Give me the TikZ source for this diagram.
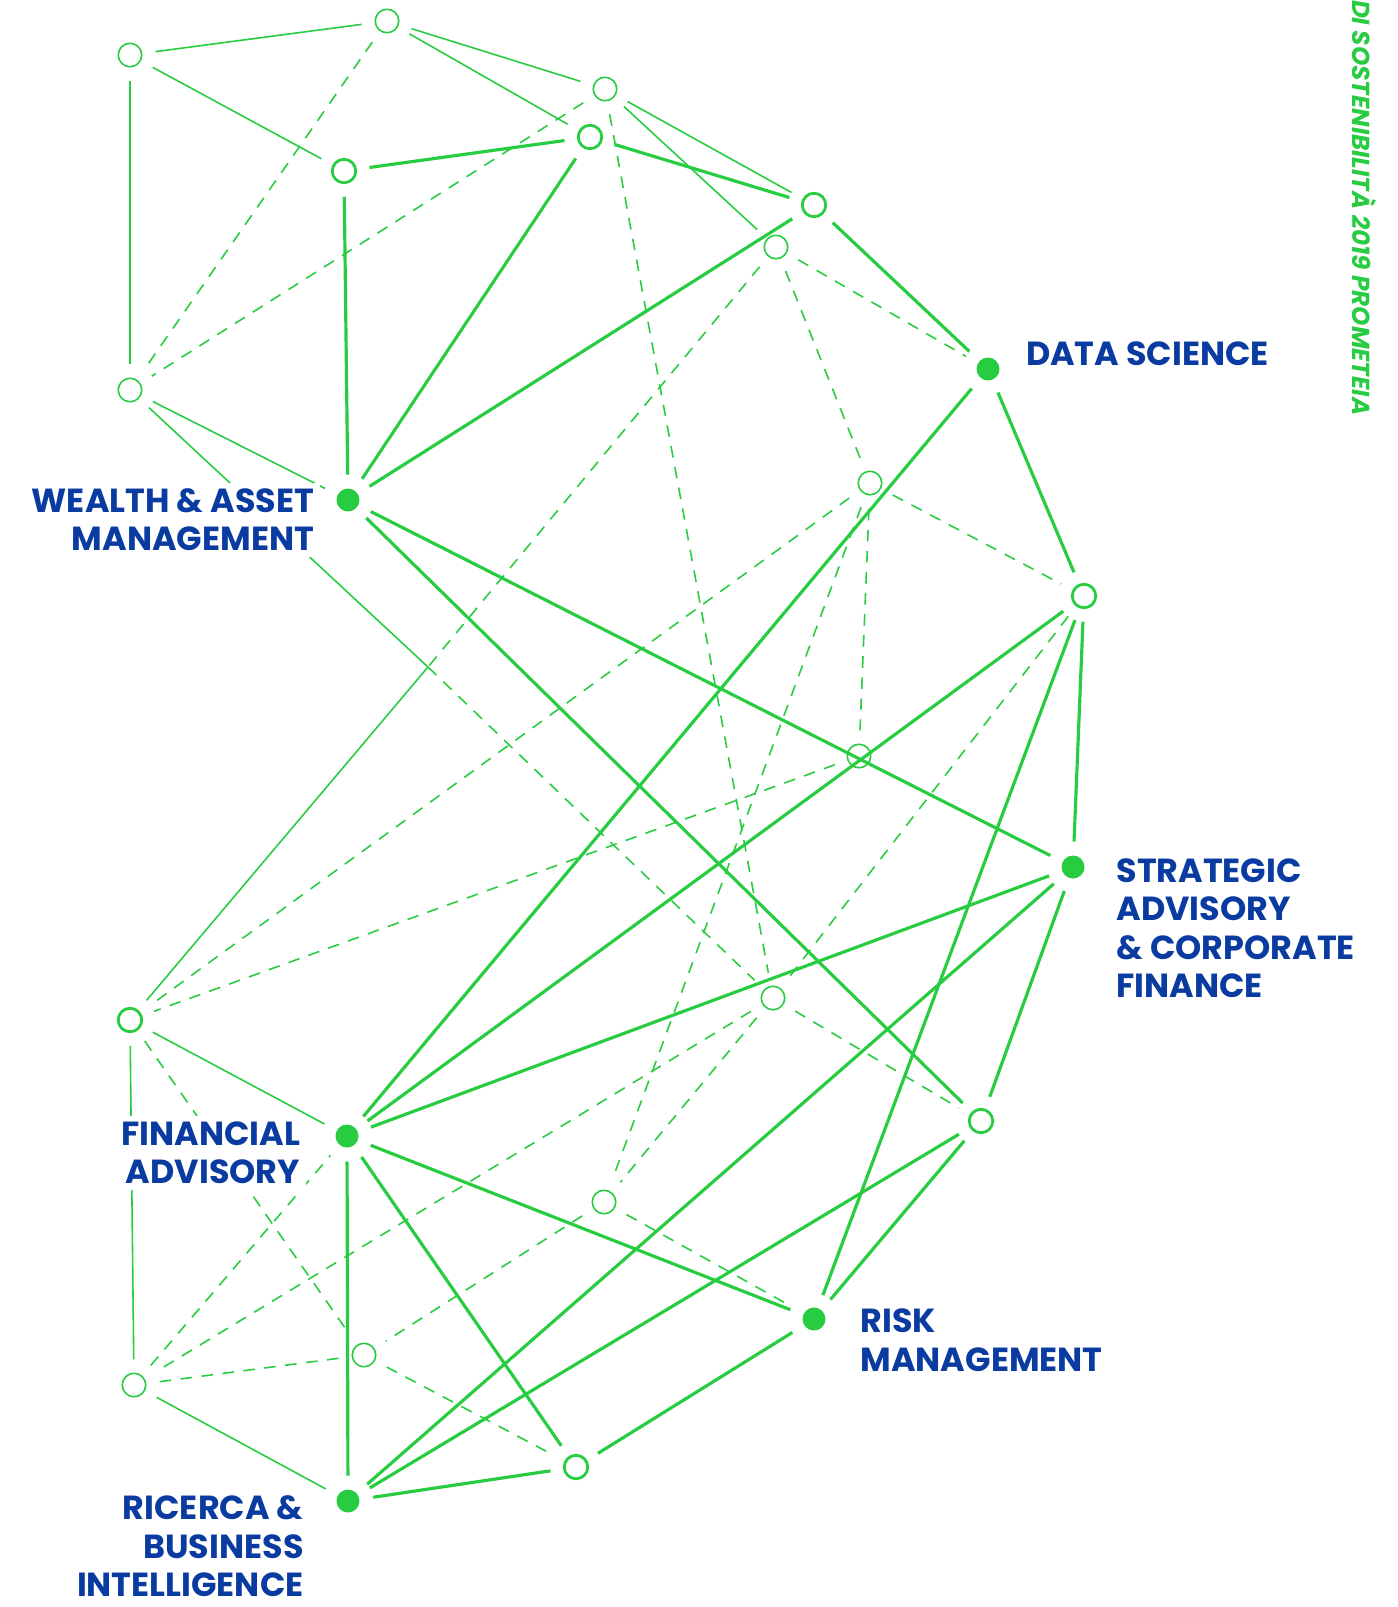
\documentclass[tikz,border=0pt]{standalone}
\usepackage{fontspec}
\setmainfont{Poppins}
\definecolor{netgreen}{HTML}{27CC40}
\definecolor{areablue}{HTML}{0A3BA0}

\begin{document}
\begin{tikzpicture}[every node/.style={outer sep=0.14cm},
	hub/.style={circle, fill=netgreen, minimum size=0.23cm, inner sep=0pt},
	ring/.style={circle, draw=netgreen, line width=0.45pt, minimum size=0.235cm, inner sep=0pt},
	boldring/.style={ring, line width=0.8pt},
	link/.style={draw=netgreen, line width=0.9pt},
	thinlink/.style={draw=netgreen, line width=0.45pt},
	dashlink/.style={draw=netgreen, line width=0.45pt, dash pattern=on 3.3pt off 2.7pt},
	areatext/.style={font=\fontsize{9.5}{10.95}\selectfont\bfseries, text=areablue, fill=white, inner sep=0.06cm, outer sep=0pt}]
	
	\useasboundingbox (0, 0) rectangle (13.98, -16.07);
	
	% Nodi pieni
	\node[hub] (ds) at (9.88, -3.69) {};
	\node[hub] (wam) at (3.48, -5.00) {};
	\node[hub] (sa) at (10.73, -8.67) {};
	\node[hub] (fa) at (3.47, -11.36) {};
	\node[hub] (rm) at (8.14, -13.19) {};
	\node[hub] (rbi) at (3.48, -15.01) {};
	
	% Nodi vuoti
	\node[ring] (v1) at (1.30, -0.55) {};
	\node[ring] (v2) at (3.87, -0.21) {};
	\node[ring] (v3) at (6.05, -0.89) {};
	\node[boldring] (v4) at (5.90, -1.37) {};
	\node[boldring] (v5) at (3.44, -1.71) {};
	\node[boldring] (v6) at (8.14, -2.05) {};
	\node[ring] (v7) at (7.76, -2.47) {};
	\node[ring] (v8) at (1.30, -3.90) {};
	\node[ring] (v9) at (8.70, -4.83) {};
	\node[boldring] (v10) at (10.84, -5.96) {};
	\node[ring] (v11) at (8.59, -7.56) {};
	\node[ring] (v12) at (7.73, -9.98) {};
	\node[boldring] (v13) at (1.30, -10.20) {};
	\node[boldring] (v14) at (9.81, -11.21) {};
	\node[ring] (v15) at (6.04, -12.02) {};
	\node[ring] (v16) at (3.64, -13.55) {};
	\node[ring] (v17) at (1.34, -13.85) {};
	\node[boldring] (v18) at (5.76, -14.67) {};
	\coordinate (bend) at (4.28, -6.67);
	
	% Collegamenti spessi
	\draw[link] (v4) -- (v5);
	\draw[link] (v4) -- (v6);
	\draw[link] (v4) -- (wam);
	\draw[link] (v5) -- (wam);
	\draw[link] (v6) -- (wam);
	\draw[link] (v6) -- (ds);
	\draw[link] (ds) -- (v10);
	\draw[link] (ds) -- (fa);
	\draw[link] (wam) -- (sa);
	\draw[link] (wam) -- (v14);
	\draw[link] (v10) -- (sa);
	\draw[link] (v10) -- (rm);
	\draw[link] (v10) -- (fa);
	\draw[link] (sa) -- (fa);
	\draw[link] (sa) -- (rbi);
	\draw[link] (sa) -- (v14);
	\draw[link] (v14) -- (rbi);
	\draw[link] (v14) -- (rm);
	\draw[link] (fa) -- (rm);
	\draw[link] (fa) -- (rbi);
	\draw[link] (fa) -- (v18);
	\draw[link] (v18) -- (rbi);
	\draw[link] (v18) -- (rm);
	
	% Collegamenti sottili
	\draw[thinlink] (v1) -- (v2);
	\draw[thinlink] (v1) -- (v5);
	\draw[thinlink] (v1) -- (v8);
	\draw[thinlink] (v2) -- (v3);
	\draw[thinlink] (v2) -- (v4);
	\draw[thinlink] (v3) -- (v6);
	\draw[thinlink] (v3) -- (v7);
	\draw[thinlink] (v8) -- (wam);
	\draw[thinlink] (v8) -- (bend);
	\draw[thinlink] (bend) -- (v13);
	\draw[thinlink] (v13) -- (fa);
	\draw[thinlink] (v13) -- (v17);
	\draw[thinlink] (v17) -- (rbi);
	
	% Collegamenti tratteggiati
	\draw[dashlink] (v2) -- (v8);
	\draw[dashlink] (v3) -- (v8);
	\draw[dashlink] (v3) -- (v12);
	\draw[dashlink] (v7) -- (ds);
	\draw[dashlink] (v7) -- (v9);
	\draw[dashlink] (v7) -- (bend);
	\draw[dashlink] (bend) -- (v12);
	\draw[dashlink] (v9) -- (v10);
	\draw[dashlink] (v9) -- (v11);
	\draw[dashlink] (v9) -- (v15);
	\draw[dashlink] (v9) -- (v13);
	\draw[dashlink] (v10) -- (v12);
	\draw[dashlink] (v11) -- (v13);
	\draw[dashlink] (v12) -- (v15);
	\draw[dashlink] (v12) -- (v14);
	\draw[dashlink] (v12) -- (v17);
	\draw[dashlink] (v15) -- (rm);
	\draw[dashlink] (v15) -- (v16);
	\draw[dashlink] (v16) -- (v17);
	\draw[dashlink] (v16) -- (v18);
	\draw[dashlink] (v13) -- (v16);
	\draw[dashlink] (v17) -- (fa);
	
	% Etichette
	\node[areatext, anchor=north west, align=left] (dstext) at (10.20, -3.36) {DATA SCIENCE};
	\node[areatext, anchor=north east, align=right] (wamtext) at (3.20, -4.825) {WEALTH \& ASSET\\MANAGEMENT};
	\node[areatext, anchor=north west, align=left] (satext) at (11.105, -8.523) {STRATEGIC\\ADVISORY\\\& CORPORATE\\FINANCE};
	\node[areatext, anchor=north east, align=right] (fatext) at (3.06, -11.157) {FINANCIAL\\ADVISORY};
	\node[areatext, anchor=north west, align=left] (rmtext) at (8.546, -13.03) {RISK\\MANAGEMENT};
	\node[areatext, anchor=north east, align=right, fill=none] (rbitext) at (3.096, -14.90) {RICERCA \&\\BUSINESS\\INTELLIGENCE};
	
	% Testata verticale
	\node[font=\fontsize{7}{8}\selectfont\bfseries\itshape, text=netgreen, rotate=-90, anchor=base west, inner sep=0pt, outer sep=0pt] (brand) at (13.52, 0.0) {DI SOSTENIBILITÀ 2019 PROMETEIA};
\end{tikzpicture}
\end{document}
